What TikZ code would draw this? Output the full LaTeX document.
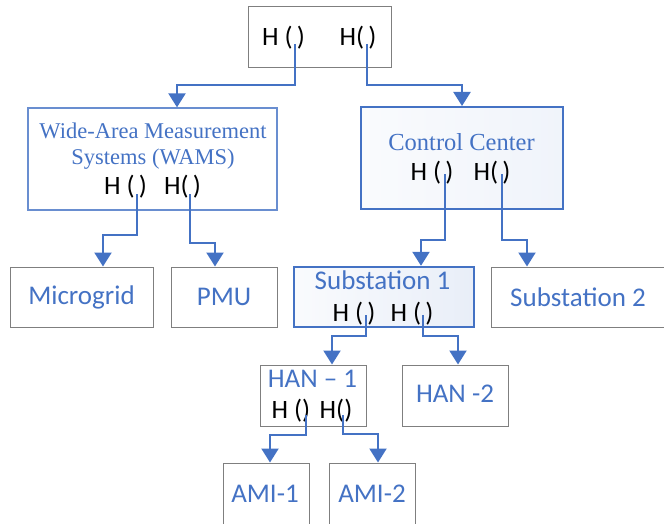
\documentclass[tikz,border=0pt]{standalone}
\usepackage{fontspec}
\setmainfont{Liberation Serif}
\newfontfamily\calib{Carlito}
\usetikzlibrary{arrows.meta}
\definecolor{accent}{HTML}{4472C4}
\definecolor{boxgray}{HTML}{7F7F7F}

\tikzset{
  graybox/.style={draw=boxgray, line width=1pt, inner sep=0pt},
  bluebox/.style={draw=accent!80, line width=1.3pt, inner sep=0pt},
  shadedbox/.style={draw=accent, line width=2pt, inner sep=0pt, left color=accent!3, right color=accent!8},
  link/.style={draw=accent, line width=2.2pt, -{Triangle[width=17pt,length=14pt]}},
  lbl/.style={text=accent, font=\calib\fontsize{27}{31}\selectfont, inner sep=0pt},
  serif/.style={text=accent, font=\fontsize{22.5}{26}\selectfont, inner sep=0pt},
  hfun/.style={text=black, font=\calib\fontsize{26.5}{30}\selectfont, inner sep=0pt},
}

\begin{document}
\begin{tikzpicture}[x=1pt, y=-1pt]
\useasboundingbox (0,0) rectangle (664,524);

% ---- boxes ----
\node[graybox, minimum width=143pt, minimum height=61pt] (top) at (319.5,37.5) {};
\node[bluebox, minimum width=249pt, minimum height=102pt] (wams) at (152.5,159) {};
\node[shadedbox, minimum width=202pt, minimum height=102pt] (cc) at (462,158) {};
\node[graybox, minimum width=143pt, minimum height=60pt] (micro) at (81.5,297) {};
\node[graybox, minimum width=106pt, minimum height=60pt] (pmu) at (224,297) {};
\node[shadedbox, line width=2.4pt, right color=accent!12, minimum width=180pt, minimum height=60pt] (sub1) at (384,297) {};
\node[graybox, minimum width=173pt, minimum height=60pt] (sub2) at (577.5,297) {};
\node[graybox, minimum width=106pt, minimum height=61pt] (han1) at (313,395.5) {};
\node[graybox, minimum width=106pt, minimum height=61pt] (han2) at (455,395.5) {};
\node[graybox, minimum width=86pt, minimum height=64pt] (ami1) at (266,495) {};
\node[graybox, minimum width=86pt, minimum height=64pt] (ami2) at (372,495) {};

% ---- labels ----
\node[hfun] (topA) at (283.5,38) {H (\,)};
\node[hfun] (topB) at (358,38) {H(\,)};

\node[serif] (wamsT1) at (153,131) {Wide-Area Measurement};
\node[serif] (wamsT2) at (153,159) {Systems (WAMS)};
\node[hfun] (wamsA) at (125.5,187) {H (\,)};
\node[hfun] (wamsB) at (182.5,187) {H(\,)};

\node[serif, font=\fontsize{24.5}{28}\selectfont] (ccT) at (461.5,142) {Control Center};
\node[hfun] (ccA) at (432,173) {H (\,)};
\node[hfun] (ccB) at (492,173) {H(\,)};

\node[lbl] (microT) at (81.5,297) {Microgrid};
\node[lbl] (pmuT) at (224,297) {PMU};
\node[lbl] (sub1T) at (382.5,280) {Substation 1};
\node[hfun] (sub1A) at (354,314) {H (\,)};
\node[hfun] (sub1B) at (412,314) {H (\,)};
\node[lbl] (sub2T) at (578,297) {Substation 2};

\node[lbl] (han1T) at (312.5,379) {HAN – 1};
\node[hfun] (han1A) at (291,411) {H ()};
\node[hfun] (han1B) at (336,411) {H()};
\node[lbl] (han2T) at (455,394) {HAN -2};

\node[lbl] (ami1T) at (265,494) {AMI-1};
\node[lbl] (ami2T) at (372,494) {AMI-2};

% ---- connector start points inside the parentheses ----
\coordinate (topAo) at (295,44);
\coordinate (topBo) at (367,44);
\coordinate (wamsAo) at (137,194);
\coordinate (wamsBo) at (190,194);
\coordinate (ccAo) at (445,174);
\coordinate (ccBo) at (502,174);
\coordinate (sub1Ao) at (366,315);
\coordinate (sub1Bo) at (423,315);
\coordinate (han1Ao) at (306,415);
\coordinate (han1Bo) at (343,415);

% ---- connectors ----
\draw[link] (topAo) |- (177,85) -- (wams.north -| 177,0);
\draw[link] (topBo) |- (462,85) -- (cc.north -| 462,0);

\draw[link] (wamsAo) |- (103,235) -- (micro.north -| 103,0);
\draw[link] (wamsBo) |- (215,243) -- (pmu.north -| 215,0);

\draw[link] (ccAo) |- (421,240) -- (sub1.north -| 421,0);
\draw[link] (ccBo) |- (527,240) -- (sub2.north -| 527,0);

\draw[link] (sub1Ao) |- (332,336) -- (han1.north -| 332,0);
\draw[link] (sub1Bo) |- (458,336) -- (han2.north -| 458,0);

\draw[link] (han1Ao) |- (270,435) -- (ami1.north -| 270,0);
\draw[link] (han1Bo) |- (378,434) -- (ami2.north -| 378,0);
\end{tikzpicture}
\end{document}
